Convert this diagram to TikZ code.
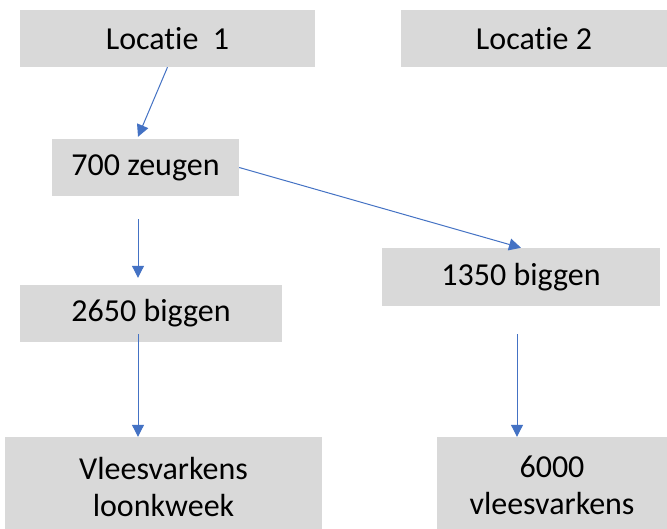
\documentclass[tikz,border=0pt]{standalone}
\usepackage{fontspec}
\setmainfont{Carlito}[Ligatures=NoCommon]
\usetikzlibrary{arrows.meta}
\definecolor{boxgray}{HTML}{D9D9D9}
\definecolor{arrblue}{HTML}{4472C4}
\tikzset{
  graybox/.style={fill=boxgray, draw=none, rectangle, inner sep=0pt, align=center,
    font=\fontsize{32}{37}\selectfont},
  arr/.style={draw=arrblue, line width=1pt, -{Triangle[length=12pt,width=12pt]}}
}
\begin{document}
\begin{tikzpicture}[x=1pt,y=-1pt]
\clip (0,0) rectangle (667,528);
\fill[white] (0,0) rectangle (667,528);
\node[graybox, minimum width=295pt, minimum height=57pt] (l1) at (167.5,38.5) {Locatie~~1};
\node[graybox, minimum width=266pt, minimum height=57pt] (l2) at (534,38.5) {Locatie 2};
\node[graybox, minimum width=187pt, minimum height=57pt] (z) at (145.5,167.5) {700 zeugen};
\node[graybox, minimum width=278pt, minimum height=58pt] (b2) at (521,277) {1350 biggen};
\node[graybox, minimum width=262pt, minimum height=57pt] (b1) at (151,313.5) {2650 biggen};
\node[graybox, minimum width=317pt, minimum height=99pt] (vv) at (163.5,486.5) {Vleesvarkens\\loonkweek};
\node[graybox, minimum width=230pt, minimum height=96pt] (v6) at (552,485) {6000\\vleesvarkens};
\draw[arr] (l1.south) -- ([xshift=-7.5pt,yshift=2pt]z.north);
\draw[arr] (z.east) -- (b2.north);
\draw[arr] ([xshift=-7.5pt,yshift=-23pt]z.south) -- ([xshift=-13pt,yshift=7pt]b1.north);
\draw[arr] ([xshift=-13pt,yshift=8pt]b1.south) -- ([xshift=-25.5pt]vv.north);
\draw[arr] ([xshift=-4pt,yshift=-28pt]b2.south) -- ([xshift=-35pt]v6.north);
\end{tikzpicture}
\end{document}
